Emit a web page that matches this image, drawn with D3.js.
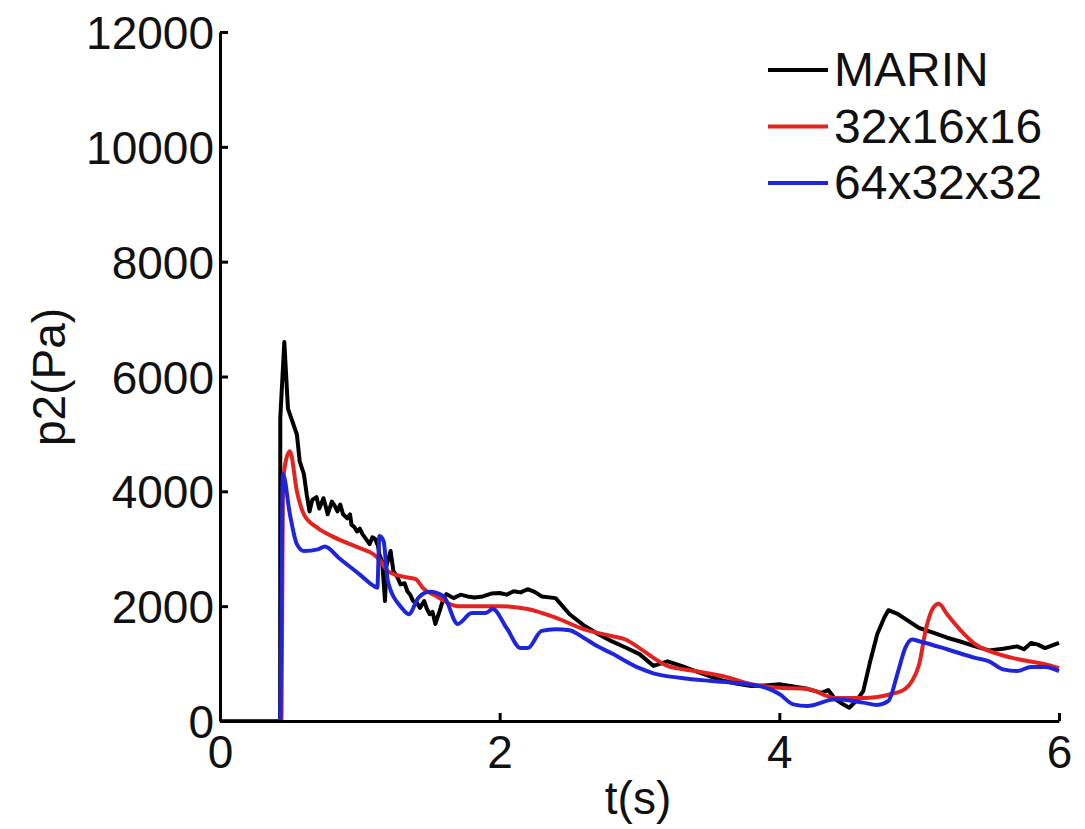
<!DOCTYPE html>
<html>
<head>
<meta charset="utf-8">
<script src="https://cdn.jsdelivr.net/npm/d3@7"></script>
<style>
  body { margin: 0; background: #fff; }
  text { font-family: "Liberation Sans", Arial, Helvetica, sans-serif; fill: #111; }
</style>
</head>
<body>
<div id="chart"></div>
<script>
// Pressure p2 vs time
const seriesNames = ["MARIN", "32x16x16", "64x32x32"];
const seriesColors = ["#000000", "#e3231f", "#1f26d9"];

const marinT = [0, 0.43, 0.431, 0.46, 0.486, 0.52, 0.55, 0.57, 0.6, 0.62, 0.64, 0.66, 0.69, 0.71, 0.74, 0.76, 0.77, 0.8, 0.82, 0.84, 0.86, 0.88, 0.91, 0.93, 0.94, 0.96, 0.98, 1.0, 1.02, 1.05, 1.07, 1.09, 1.11, 1.13, 1.14, 1.16, 1.18, 1.19, 1.22, 1.24, 1.27, 1.29, 1.32, 1.34, 1.36, 1.38, 1.41, 1.43, 1.46, 1.48, 1.5, 1.52, 1.54, 1.57, 1.6, 1.62, 1.67, 1.72, 1.77, 1.82, 1.88, 1.94, 2.0, 2.05, 2.1, 2.15, 2.2, 2.25, 2.3, 2.4, 2.5, 2.6, 2.7, 2.8, 2.9, 3.0, 3.1, 3.2, 3.3, 3.4, 3.5, 3.6, 3.7, 3.8, 3.9, 4.0, 4.1, 4.2, 4.3, 4.35, 4.4, 4.45, 4.5, 4.55, 4.6, 4.65, 4.7, 4.75, 4.78, 4.85, 4.9, 5.0, 5.1, 5.2, 5.3, 5.4, 5.5, 5.6, 5.7, 5.75, 5.8, 5.85, 5.9, 6.0];
const marinP = [0, 0, 5270, 6600, 5440, 5200, 4990, 4520, 4300, 3950, 3650, 3850, 3900, 3700, 3880, 3700, 3600, 3820, 3750, 3650, 3770, 3600, 3530, 3600, 3420, 3380, 3300, 3350, 3250, 3150, 3080, 3200, 3170, 3050, 2900, 2780, 2090, 2700, 2960, 2610, 2500, 2380, 2400, 2260, 2200, 2090, 2050, 1970, 2090, 1950, 1860, 1900, 1690, 1910, 2150, 2210, 2140, 2200, 2170, 2150, 2170, 2220, 2230, 2200, 2260, 2240, 2295, 2250, 2170, 2140, 1860, 1670, 1520, 1390, 1280, 1165, 960, 1040, 960, 870, 780, 700, 650, 610, 620, 640, 600, 560, 490, 540, 380, 300, 230, 350, 520, 1040, 1510, 1800, 1930, 1860, 1780, 1620, 1540, 1450, 1380, 1300, 1230, 1260, 1300, 1250, 1360, 1330, 1270, 1360];

const coarseT = [0, 0.44, 0.45, 0.5, 0.55, 0.6, 0.7, 0.8, 1.0, 1.1, 1.15, 1.2, 1.3, 1.4, 1.45, 1.55, 1.7, 1.9, 2.0, 2.2, 2.4, 2.6, 2.8, 2.9, 3.0, 3.1, 3.2, 3.4, 3.6, 3.8, 4.0, 4.2, 4.4, 4.6, 4.8, 4.9, 4.95, 5.0, 5.05, 5.1, 5.14, 5.2, 5.3, 5.4, 5.5, 5.7, 5.9, 6.0];
const coarseP = [0, 0, 4200, 4700, 4000, 3600, 3360, 3220, 3010, 2900, 2780, 2610, 2520, 2470, 2320, 2170, 2000, 2000, 2000, 1950, 1800, 1600, 1480, 1420, 1270, 1100, 960, 870, 780, 640, 580, 560, 400, 400, 470, 560, 700, 990, 1620, 1970, 2040, 1860, 1570, 1340, 1220, 1080, 990, 920];

const fineT = [0, 0.43, 0.45, 0.5, 0.55, 0.6, 0.7, 0.75, 0.85, 1.0, 1.1, 1.125, 1.14, 1.17, 1.2, 1.3, 1.35, 1.42, 1.5, 1.6, 1.7, 1.8, 1.9, 1.95, 2.05, 2.15, 2.2, 2.3, 2.4, 2.5, 2.6, 2.7, 2.8, 3.0, 3.1, 3.3, 3.5, 3.7, 3.9, 4.0, 4.1, 4.2, 4.4, 4.6, 4.7, 4.78, 4.85, 4.9, 4.95, 5.0, 5.2, 5.4, 5.5, 5.6, 5.7, 5.8, 5.9, 6.0];
const fineP = [0, 0, 4300, 3600, 3080, 2960, 2990, 3040, 2840, 2550, 2350, 2320, 3220, 3130, 2440, 1970, 1860, 2150, 2250, 2170, 1690, 1880, 1880, 1950, 1620, 1270, 1270, 1570, 1600, 1580, 1450, 1300, 1180, 920, 830, 750, 700, 660, 580, 470, 290, 260, 380, 320, 280, 350, 870, 1270, 1420, 1390, 1250, 1100, 1040, 900, 870, 940, 940, 870];

const xTicks = [0, 2, 4, 6];
const yTicks = [0, 2000, 4000, 6000, 8000, 10000, 12000];

const W = 1085, H = 829;
const svg = d3.select("#chart").append("svg")
    .attr("width", W)
    .attr("height", H);

const x = d3.scaleLinear().domain([0, 6]).range([220, 1059]);
const y = d3.scaleLinear().domain([0, 12000]).range([721, 32]);

const series = [
    { name: seriesNames[0], color: seriesColors[0], t: marinT, p: marinP, curve: d3.curveLinear },
    { name: seriesNames[1], color: seriesColors[1], t: coarseT, p: coarseP, curve: d3.curveMonotoneX },
    { name: seriesNames[2], color: seriesColors[2], t: fineT, p: fineP, curve: d3.curveMonotoneX }
];

// lines
series.forEach(s => {
    const pts = s.t.map((t, i) => [t, s.p[i]]);
    svg.append("path")
        .datum(pts)
        .attr("fill", "none")
        .attr("stroke", s.color)
        .attr("stroke-width", 4)
        .attr("stroke-linejoin", "round")
        .attr("d", d3.line().x(d => x(d[0])).y(d => y(d[1])).curve(s.curve));
});

// axes (matlab style, ticks inside, box off)
const xAxis = svg.append("g")
    .attr("transform", `translate(0,${y(0)})`)
    .call(d3.axisBottom(x).tickValues(xTicks).tickSize(-8).tickSizeOuter(0).tickPadding(13).tickFormat(d3.format("d")));
const yAxis = svg.append("g")
    .attr("transform", `translate(${x(0)},0)`)
    .call(d3.axisLeft(y).tickValues(yTicks).tickSize(-8).tickSizeOuter(0).tickPadding(6).tickFormat(d3.format("d")));

[xAxis, yAxis].forEach(g => {
    g.select(".domain").attr("stroke", "#000").attr("stroke-width", 3);
    g.selectAll(".tick line").attr("stroke", "#000").attr("stroke-width", 3);
    g.selectAll(".tick text")
        .attr("font-size", 46)
        .attr("font-family", "Liberation Sans, Arial, sans-serif")
        .attr("fill", "#111");
});
yAxis.selectAll(".tick text").attr("dy", "0.36em");
xAxis.selectAll(".tick text").attr("dy", "0.74em");

// axis titles
svg.append("text")
    .attr("x", 638)
    .attr("y", 814)
    .attr("text-anchor", "middle")
    .attr("font-size", 46)
    .text("t(s)");

svg.append("text")
    .attr("transform", "translate(65,377) rotate(-90)")
    .attr("text-anchor", "middle")
    .attr("font-size", 46)
    .text("p2(Pa)");

// legend
const legend = svg.append("g").attr("transform", "translate(768,70)");
series.forEach((s, i) => {
    const row = legend.append("g").attr("transform", `translate(0,${i * 56.5})`);
    row.append("line")
        .attr("x1", 0).attr("x2", 60)
        .attr("stroke", s.color)
        .attr("stroke-width", 4);
    row.append("text")
        .attr("x", 66)
        .attr("y", 16)
        .attr("font-size", 48)
        .text(s.name);
});
</script>
</body>
</html>
